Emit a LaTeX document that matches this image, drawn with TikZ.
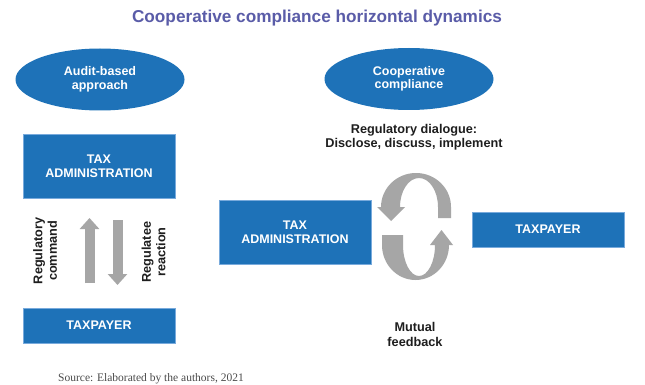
\documentclass[tikz,border=0pt]{standalone}
\usepackage{fontspec}
\setmainfont{Liberation Sans}
\newfontfamily\serifsrc{Liberation Serif}
\usetikzlibrary{shapes.geometric,arrows.meta}
\definecolor{boxblue}{RGB}{30,114,184}
\definecolor{edgeblue}{RGB}{120,170,220}
\definecolor{titlepurple}{RGB}{90,92,168}
\definecolor{arrowgray}{RGB}{166,166,166}
\definecolor{txtdark}{RGB}{30,30,30}
\tikzset{
  bluebox/.style={draw=edgeblue, line width=0.6pt, fill=boxblue, text=white,
    font=\bfseries\fontsize{12.5}{14}\selectfont, align=center,
    minimum width=152pt, inner sep=0pt},
  blueell/.style={ellipse, fill=boxblue, text=white,
    font=\bfseries\fontsize{12.5}{13.5}\selectfont, align=center,
    minimum width=169pt, minimum height=62pt, inner sep=0pt},
  lbl/.style={text=txtdark, font=\bfseries\fontsize{12.7}{14.5}\selectfont, align=center, inner sep=0pt},
  grayarrow/.style={draw=arrowgray, line width=10pt, -{Triangle[width=19pt,length=11pt]}},
}
\begin{document}
\begin{tikzpicture}[x=1pt,y=-1pt]
\useasboundingbox (0,0) rectangle (645,385);
\fill[white] (0,0) rectangle (645,385);

% title
\node[text=titlepurple, font=\bfseries\fontsize{17.2}{20}\selectfont] (title) at (317,18) {Cooperative compliance horizontal dynamics};

% ellipses
\node[blueell] (audit) at (100,79.5) {Audit-based\\approach};
\node[blueell] (coop) at (409,79) {Cooperative\\compliance};

% left column
\node[bluebox, minimum height=64pt] (taxL) at (99,166) {TAX\\ADMINISTRATION};
\node[bluebox, minimum height=35pt] (payL) at (99,325.5) {TAXPAYER};

\coordinate (upS) at (89.5,283);
\coordinate (upE) at (89.5,218);
\coordinate (dnS) at (117.5,220);
\coordinate (dnE) at (117.5,285);
\draw[grayarrow] (upS) -- (upE);
\draw[grayarrow] (dnS) -- (dnE);

\node[lbl, rotate=90] (cmd) at (45,251) {Regulatory\\command};
\node[lbl, rotate=90] (react) at (153.5,252) {Regulatee\\reaction};

% right part
\node[lbl] (dialog) at (414,137) {Regulatory dialogue:\\Disclose, discuss, implement};
\node[bluebox, minimum height=64pt] (taxM) at (295,232) {TAX\\ADMINISTRATION};
\node[bluebox, minimum height=35pt] (payR) at (548,229.5) {TAXPAYER};
\node[lbl] (mutual) at (415,334.5) {Mutual\\feedback};

% circular arrows
\fill[arrowgray] (451,218) -- (451,207)
  arc[start angle=0, end angle=-180, x radius=35, y radius=34]
  -- (377,207) -- (391,221) -- (405,207) -- (400,207)
  arc[start angle=-180, end angle=0, x radius=19, y radius=29]
  -- (438,218) -- cycle;
\fill[arrowgray] (382,235) -- (382,245)
  arc[start angle=180, end angle=0, x radius=33.5, y radius=35]
  -- (453,245) -- (441.5,230) -- (430,245) -- (435,245)
  arc[start angle=0, end angle=180, x radius=16, y radius=31]
  -- (403,235) -- cycle;

% source
\node[anchor=base west, inner sep=0pt, text=txtdark!80, font=\serifsrc\fontsize{11.5}{13}\selectfont] (src) at (58,381) {Source: Elaborated by the authors, 2021};
\end{tikzpicture}
\end{document}
